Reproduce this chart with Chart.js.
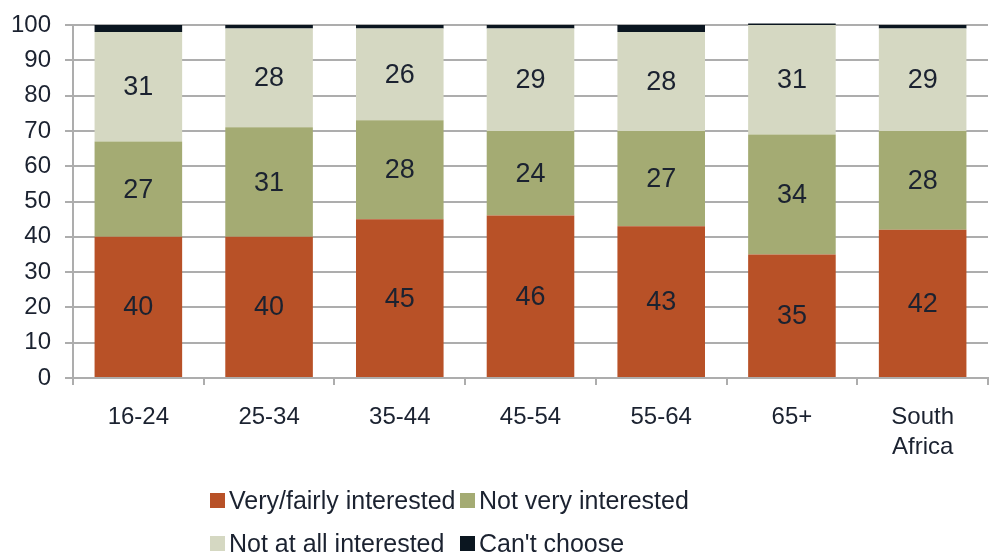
<!DOCTYPE html>
<html>
<head>
<meta charset="utf-8">
<script src="https://cdn.jsdelivr.net/npm/chart.js@4/dist/chart.umd.min.js"></script>
<style>
  html, body { margin: 0; padding: 0; background: #fff; }
  #wrap { position: relative; width: 994px; height: 556px; overflow: hidden; }
  #legend { position: absolute; left: 0; top: 0; width: 994px; height: 556px; pointer-events: none;
            font-family: 'Liberation Sans', Arial, sans-serif; font-size: 25px; color: #1b2230; }
  .item { position: absolute; display: flex; align-items: center; white-space: nowrap; }
  .swatch { width: 15px; height: 15px; margin-right: 4px; }
</style>
</head>
<body>
<div id="wrap">
  <canvas id="chart" width="994" height="556"></canvas>
  <div id="legend"></div>
</div>
<script>
// Interest by age group, percent
const categories = ['16-24', '25-34', '35-44', '45-54', '55-64', '65+', ['South', 'Africa']];
const veryFairly = [40, 40, 45, 46, 43, 35, 42];
const notVery = [27, 31, 28, 24, 27, 34, 28];
const notAtAll = [31, 28, 26, 29, 28, 31, 29];
const cantChoose = [2, 1, 1, 1, 2, 0.4, 1];
const yTicks = [0, 10, 20, 30, 40, 50, 60, 70, 80, 90, 100];

const seriesNames = ['Very/fairly interested', 'Not very interested', 'Not at all interested', "Can't choose"];
const seriesColors = ['#b85127', '#a4ab73', '#d5d8c2', '#0b1620'];
const textColor = '#1b2230';
const gridColor = '#adadad';
const fontFamily = "'Liberation Sans', Arial, sans-serif";

// numbers printed in the middle of each segment (not for "Can't choose")
const segmentLabels = {
  id: 'segmentLabels',
  afterDatasetsDraw(chart) {
    const ctx = chart.ctx;
    ctx.save();
    ctx.font = '27px ' + fontFamily;
    ctx.fillStyle = textColor;
    ctx.textAlign = 'center';
    ctx.textBaseline = 'middle';
    chart.data.datasets.forEach((ds, i) => {
      if (i > 2) return;
      chart.getDatasetMeta(i).data.forEach((bar, j) => {
        const v = ds.data[j];
        if (!v) return;
        ctx.fillText(String(v), bar.x, (bar.y + bar.base) / 2 + 1);
      });
    });
    ctx.restore();
  }
};

const values = [veryFairly, notVery, notAtAll, cantChoose];

new Chart(document.getElementById('chart').getContext('2d'), {
  type: 'bar',
  data: {
    labels: categories,
    datasets: values.map((d, i) => ({
      label: seriesNames[i],
      data: d,
      backgroundColor: seriesColors[i],
      borderWidth: 0,
      barPercentage: 0.67,
      categoryPercentage: 1,
      clip: i === 3 ? false : undefined
    }))
  },
  options: {
    responsive: false,
    animation: false,
    events: [],
    layout: { padding: { top: 25, right: 6, left: 0, bottom: 0 } },
    plugins: {
      legend: { display: false },
      tooltip: { enabled: false }
    },
    scales: {
      x: {
        stacked: true,
        grid: { display: true, drawOnChartArea: false, drawTicks: true, tickLength: 7, color: gridColor, lineWidth: 2 },
        border: { display: true, color: gridColor, width: 2 },
        ticks: { color: textColor, font: { family: fontFamily, size: 24, lineHeight: 1.25 }, padding: 17, maxRotation: 0, autoSkip: false },
        afterFit: s => { s.height = 178; }
      },
      y: {
        stacked: true,
        min: 0,
        max: 100,
        afterBuildTicks: s => { s.ticks = yTicks.map(v => ({ value: v })); },
        grid: { color: gridColor, lineWidth: 2, tickLength: 8, drawTicks: true },
        border: { display: true, color: gridColor, width: 2 },
        ticks: { color: textColor, font: { family: fontFamily, size: 24 }, padding: 14 },
        afterFit: s => { s.width = 73; s.paddingTop = 0; s.paddingBottom = 0; }
      }
    }
  },
  plugins: [segmentLabels]
});

// two-row legend under the plot
const legend = document.getElementById('legend');
const legendPos = [[210, 500], [460, 500], [210, 543], [460, 543]];
seriesNames.forEach((name, i) => {
  const item = document.createElement('div');
  item.className = 'item';
  item.style.left = legendPos[i][0] + 'px';
  item.style.top = (legendPos[i][1] - 14) + 'px';
  item.style.height = '28px';
  const sw = document.createElement('span');
  sw.className = 'swatch';
  sw.style.background = seriesColors[i];
  const txt = document.createElement('span');
  txt.textContent = name;
  item.appendChild(sw);
  item.appendChild(txt);
  legend.appendChild(item);
});
</script>
</body>
</html>
